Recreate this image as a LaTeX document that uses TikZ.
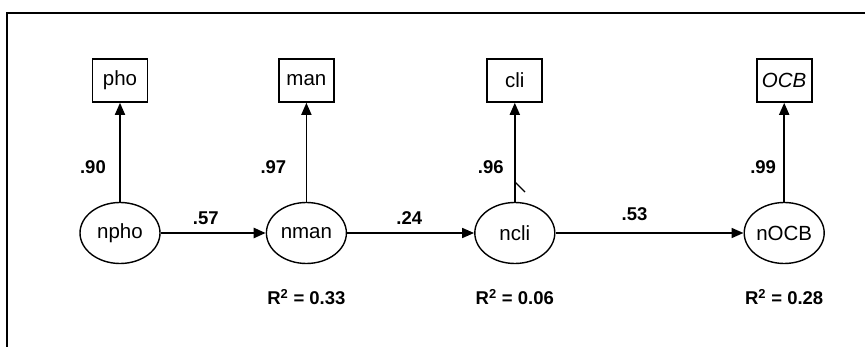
\documentclass[tikz,border=0pt]{standalone}
\usepackage{fontspec}
\setmainfont{Liberation Sans}
\usepackage{tikz}
\usetikzlibrary{arrows.meta,positioning,shapes.geometric}

\begin{document}
\begin{tikzpicture}[x=1pt, y=-1pt, font=\fontsize{20.5}{24}\selectfont,
    latent/.style={draw, line width=1.4pt, ellipse, inner sep=0pt,
                   minimum width=80pt, minimum height=61pt},
    indicator/.style={draw, line width=1.8pt, inner sep=0pt,
                      minimum width=55pt, minimum height=43pt},
    link/.style={-{Triangle[length=12pt,width=10pt]}, line width=1.7pt},
    coef/.style={font=\fontsize{18.5}{22}\selectfont\bfseries},
    rsq/.style={font=\fontsize{18.5}{22}\selectfont\bfseries, anchor=base}]

    \useasboundingbox (0,0) rectangle (865,347);
    \draw[line width=1.8pt] (865,13) -- (7,13) -- (7,347);

    % latent variables
    \node[latent] (npho) at (120,233) {npho};
    \node[latent, right=105pt of npho] (nman) {nman};
    \node[latent, right=127pt of nman] (ncli) {ncli};
    \node[latent, right=188pt of ncli] (nocb) {nOCB};

    % observed indicators
    \node[indicator, above=99pt of npho] (pho) {pho};
    \node[indicator, above=99pt of nman] (man) {man};
    \node[indicator, above=99pt of ncli] (cli) {cli};
    \node[indicator, above=99pt of nocb] (ocb) {\textit{OCB}};

    \foreach \lv/\ob/\val/\dx in {npho/pho/.90/-10, nman/man/.97/-16,
                                  ncli/cli/.96/-7, nocb/ocb/.99/-4} {
        \draw[link] (\lv) -- node[coef, left, pos=0.35, xshift=\dx pt]{\val} (\ob);
    }

    \draw[link, line width=2.4pt] (npho) -- node[coef, above, pos=0.43, yshift=4pt]{.57} (nman);
    \draw[link] (nman) -- node[coef, above, pos=0.49, yshift=4pt]{.24} (ncli);
    \draw[link] (ncli) -- node[coef, above, pos=0.42, yshift=8pt]{.53} (nocb);

    \node[rsq] (r2man) at ([yshift=-72pt]nman.center) {R\textsuperscript{2} = 0.33};
    \node[rsq] (r2cli) at ([yshift=-72pt]ncli.center) {R\textsuperscript{2} = 0.06};
    \node[rsq] (r2ocb) at ([yshift=-72pt]nocb.center) {R\textsuperscript{2} = 0.28};

    \draw[line width=1.2pt] (515,182) -- (525,192);
\end{tikzpicture}
\end{document}
